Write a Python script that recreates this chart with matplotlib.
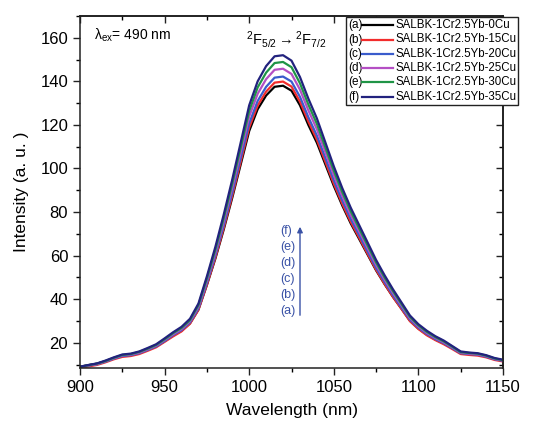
import matplotlib
matplotlib.use("Agg")
import matplotlib.pyplot as plt
from matplotlib.ticker import MultipleLocator
from matplotlib.patches import Rectangle, FancyArrowPatch
from matplotlib.lines import Line2D

plt.rcParams['font.family'] = ['Liberation Sans', 'DejaVu Sans']
plt.rcParams['mathtext.fontset'] = 'custom'
plt.rcParams['mathtext.rm'] = 'Liberation Sans'
plt.rcParams['mathtext.it'] = 'Liberation Sans:italic'
plt.rcParams['mathtext.bf'] = 'Liberation Sans:bold'

wavelength = list(range(900, 1151, 5))

int_a = [9.0, 9.7, 10.4, 11.5, 12.9, 14.0, 14.4, 15.3, 16.8, 18.3, 20.7, 23.3, 25.5, 28.9, 35.2,
         46.5, 58.6, 72.1, 86.6, 101.9, 117.2, 127.2, 133.5, 137.5, 138.0, 135.7, 129.0, 119.9,
         111.8, 101.9, 92.0, 83.0, 74.8, 67.6, 60.4, 53.2, 46.9, 41.0, 35.6, 30.1, 26.5, 23.7,
         21.5, 19.7, 17.5, 15.3, 14.9, 14.6, 13.8, 12.6, 11.9]
int_b = [8.4, 9.1, 9.8, 11.0, 12.4, 13.5, 13.9, 14.8, 16.3, 17.9, 20.4, 22.9, 25.2, 28.7, 35.1,
         46.6, 59.0, 72.8, 87.5, 103.1, 118.8, 128.9, 135.3, 139.4, 139.9, 137.6, 130.7, 121.5,
         113.2, 103.1, 93.0, 83.8, 75.5, 68.2, 60.8, 53.5, 47.0, 41.0, 35.5, 29.9, 26.3, 23.4,
         21.2, 19.3, 17.1, 14.8, 14.4, 14.1, 13.3, 12.1, 11.4]
int_c = [8.7, 9.5, 10.1, 11.3, 12.7, 13.9, 14.3, 15.2, 16.7, 18.3, 20.8, 23.5, 25.8, 29.3, 35.8,
         47.5, 60.1, 74.1, 89.0, 104.9, 120.7, 131.0, 137.5, 141.7, 142.2, 139.9, 132.9, 123.5,
         115.1, 104.9, 94.6, 85.3, 76.9, 69.4, 61.9, 54.4, 47.9, 41.8, 36.2, 30.6, 26.9, 24.0,
         21.7, 19.8, 17.5, 15.2, 14.8, 14.5, 13.6, 12.4, 11.7]
int_d = [8.8, 9.6, 10.2, 11.5, 12.9, 14.2, 14.6, 15.5, 17.0, 18.7, 21.3, 23.9, 26.3, 29.9, 36.6,
         48.6, 61.5, 75.9, 91.2, 107.5, 123.8, 134.3, 141.0, 145.3, 145.8, 143.4, 136.2, 126.6,
         118.0, 107.5, 96.9, 87.4, 78.7, 71.1, 63.4, 55.7, 49.0, 42.8, 37.1, 31.3, 27.5, 24.5,
         22.2, 20.2, 17.9, 15.5, 15.0, 14.7, 13.9, 12.6, 11.9]
int_e = [8.9, 9.7, 10.4, 11.6, 13.1, 14.4, 14.8, 15.8, 17.3, 19.0, 21.6, 24.4, 26.8, 30.4, 37.3,
         49.5, 62.7, 77.4, 93.1, 109.7, 126.4, 137.2, 144.0, 148.4, 148.9, 146.5, 139.1, 129.3,
         120.5, 109.7, 99.0, 89.2, 80.4, 72.5, 64.7, 56.9, 50.0, 43.7, 37.8, 31.9, 28.0, 25.0,
         22.6, 20.6, 18.2, 15.7, 15.3, 15.0, 14.1, 12.8, 12.0]
int_f = [9.0, 9.8, 10.5, 11.8, 13.3, 14.6, 15.0, 16.0, 17.6, 19.3, 22.0, 24.8, 27.3, 31.0, 38.0,
         50.5, 64.0, 79.0, 95.0, 112.0, 129.0, 140.0, 147.0, 151.5, 152.0, 149.5, 142.0, 132.0,
         123.0, 112.0, 101.0, 91.0, 82.0, 74.0, 66.0, 58.0, 51.0, 44.5, 38.5, 32.5, 28.5, 25.5,
         23.0, 21.0, 18.5, 16.0, 15.5, 15.2, 14.3, 13.0, 12.2]

series = [int_a, int_b, int_c, int_d, int_e, int_f]
tags = ['(a)', '(b)', '(c)', '(d)', '(e)', '(f)']
labels = ['SALBK-1Cr2.5Yb-0Cu', 'SALBK-1Cr2.5Yb-15Cu', 'SALBK-1Cr2.5Yb-20Cu',
          'SALBK-1Cr2.5Yb-25Cu', 'SALBK-1Cr2.5Yb-30Cu', 'SALBK-1Cr2.5Yb-35Cu']
colors = ['#000000', '#f22c2c', '#3a5ccc', '#b44fc4', '#1f9446', '#22227e']
anno_color = '#3a52a6'

W, H = 539, 429
fig = plt.figure(figsize=(W / 100, H / 100), dpi=100)
ax = fig.add_axes([80 / W, 1 - 368 / H, (503 - 80) / W, (368 - 16) / H])

for ys, c, lab in zip(series, colors, labels):
    ax.plot(wavelength, ys, color=c, lw=1.6, label=lab, solid_joinstyle='round')

ax.set_xlim(900, 1150)
ax.set_ylim(8.4, 170)
ax.xaxis.set_major_locator(MultipleLocator(50))
ax.xaxis.set_minor_locator(MultipleLocator(25))
ax.yaxis.set_major_locator(MultipleLocator(20))
ax.yaxis.set_minor_locator(MultipleLocator(10))
ax.tick_params(which='major', direction='out', length=5, width=1.0, labelsize=12, colors='#222222')
ax.tick_params(which='minor', direction='out', length=3, width=1.0)
ax.tick_params(axis='both', labelcolor='black')
for sp in ax.spines.values():
    sp.set_linewidth(1.1)
    sp.set_color('#222222')

secx = ax.secondary_xaxis('top')
secx.xaxis.set_major_locator(MultipleLocator(50))
secx.xaxis.set_minor_locator(MultipleLocator(25))
secx.tick_params(which='major', direction='in', length=5, width=1.0, labeltop=False, colors='#222222')
secx.tick_params(which='minor', direction='in', length=3, width=1.0)
secx.spines['top'].set_linewidth(1.1)
secy = ax.secondary_yaxis('right')
secy.yaxis.set_major_locator(MultipleLocator(20))
secy.yaxis.set_minor_locator(MultipleLocator(10))
secy.tick_params(which='major', direction='in', length=5, width=1.0, labelright=False, colors='#222222')
secy.tick_params(which='minor', direction='in', length=3, width=1.0)
secy.spines['right'].set_linewidth(1.1)

ax.set_xlabel('Wavelength (nm)', fontsize=12.5, labelpad=6)
ax.set_ylabel('Intensity (a. u. )', fontsize=12.5, labelpad=8)

# annotations in figure pixel coordinates
ov = fig.add_axes([0, 0, 1, 1], facecolor='none')
ov.set_xlim(0, W)
ov.set_ylim(H, 0)
ov.axis('off')

ov.text(94, 35, r'λ$_{\mathrm{ex}}$= 490 nm', fontsize=10, va='center', ha='left')
ov.text(246, 39, r'$^{2}$F$_{5/2}$$\rightarrow$$^{2}$F$_{7/2}$', fontsize=10.5, va='center', ha='left')

# arrow with labels
tag_y = [311, 295, 279, 263, 247, 231]
for t, y in zip(tags, tag_y):
    ov.text(280, y, t, fontsize=9, color=anno_color, va='center', ha='left')
ov.add_patch(FancyArrowPatch((300, 318), (300, 224), arrowstyle='-|>', mutation_scale=8,
                             color=anno_color, lw=1.0))

# legend box
ov.add_patch(Rectangle((346, 17), 172, 88, facecolor='white', edgecolor='#222222', lw=1.0, zorder=5))
row_y = [25, 39.5, 53.8, 68, 82.3, 97]
for t, lab, c, y in zip(tags, labels, colors, row_y):
    ov.text(348, y, t, fontsize=8.5, va='center', ha='left', zorder=6)
    ov.add_line(Line2D([362, 393], [y, y], color=c, lw=1.6, zorder=6))
    ov.text(395, y, lab, fontsize=8.3, va='center', ha='left', zorder=6)

fig.savefig('out.png', dpi=100)
